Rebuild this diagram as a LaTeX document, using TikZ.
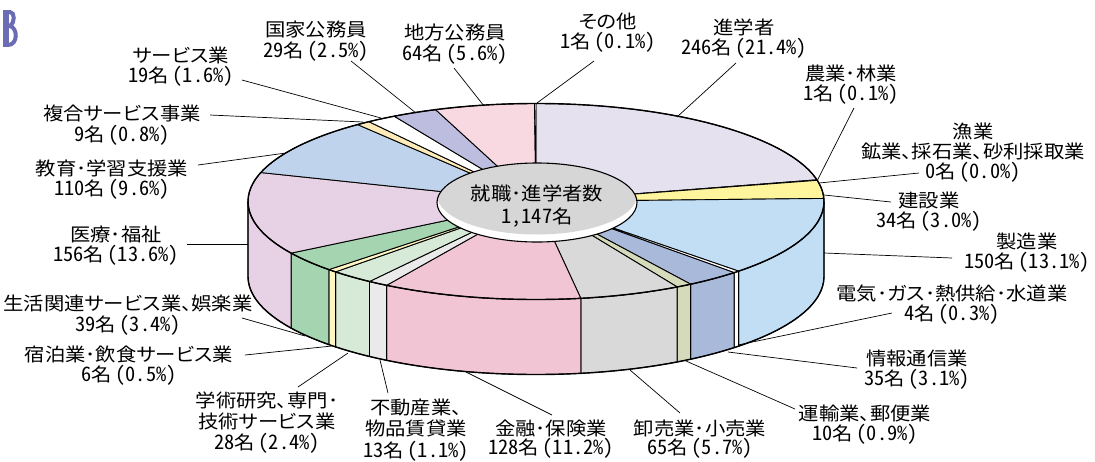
\documentclass[tikz,border=0pt]{standalone}
\usepackage{fontspec}
\setmainfont{Noto Sans CJK JP}[FakeStretch=1.1,RawFeature={+palt}]
\newfontfamily\hwfont{Noto Sans CJK JP}[Scale=1.08,FakeStretch=1.02,RawFeature={+hwid}]
\newcommand\numlab[2]{{\hwfont #1}名\kern0.2em{\hwfont(#2\%)}}
\definecolor{cShingaku}{HTML}{E6E1EE}
\definecolor{cKensetsu}{HTML}{FFF59D}
\definecolor{cSeizo}{HTML}{C1DEF5}
\definecolor{cJoho}{HTML}{A9B9DA}
\definecolor{cUnyu}{HTML}{D5DABB}
\definecolor{cOroshi}{HTML}{D9D9D9}
\definecolor{cKinyu}{HTML}{F2C5D4}
\definecolor{cFudosan}{HTML}{EAEAEA}
\definecolor{cGakujutsu}{HTML}{D7E9D7}
\definecolor{cShukuhaku}{HTML}{FFF6C4}
\definecolor{cSeikatsu}{HTML}{A5D4B0}
\definecolor{cIryo}{HTML}{E7D1E5}
\definecolor{cKyoiku}{HTML}{C0D3EC}
\definecolor{cFukugo}{HTML}{FFEBB8}
\definecolor{cKokka}{HTML}{BDBEDF}
\definecolor{cChiho}{HTML}{F8D9E2}
\definecolor{cLabel}{HTML}{D6D6D6}
\definecolor{cGlyph}{HTML}{6A6CB4}
\begin{document}
\begin{tikzpicture}[x=1pt,y=-1pt,
  slice/.style={draw=black,line width=0.9pt,line join=round},
  outer/.style={draw=black,line width=1.4pt},
  leader/.style={draw=black,line width=0.7pt},
  lbl/.style={anchor=base,inner sep=0pt,font=\fontsize{18.5}{20.5}\selectfont}]
\useasboundingbox[fill=white] (0,0) rectangle (1095,461);
% corner glyph
\fill[cGlyph] (3,10) rectangle (9,47);
\draw[cGlyph,line width=4pt] (8,12) -- (10,12) .. controls (15,12) and (15,23) .. (10,26) .. controls (18,28) and (18,45) .. (8,45);
\coordinate (C) at (536,201.5);
\coordinate (B) at (536,276.5);
% side faces
\foreach \s/\e/\c in {0/45.28/cSeizo,45.28/46.53/white,46.53/57.52/cJoho,57.52/60.65/cUnyu,60.65/81.05/cOroshi,81.05/121.23/cKinyu,121.23/125.31/cFudosan,125.31/134.10/cGakujutsu,134.10/135.98/cShukuhaku,135.98/148.22/cSeikatsu,148.22/180/cIryo}{
  \draw[slice,fill=\c] ([shift={(C)}]\s:288 and 98) arc[start angle=\s,end angle=\e,x radius=288,y radius=98] -- ++(0,75) arc[start angle=\e,end angle=\s,x radius=288,y radius=98] -- cycle;
}
% top faces
\foreach \s/\e/\c in {-90/-12.79/cShingaku,-12.79/-12.48/white,-12.48/-1.80/cKensetsu,-1.80/45.28/cSeizo,45.28/46.53/white,46.53/57.52/cJoho,57.52/60.65/cUnyu,60.65/81.05/cOroshi,81.05/121.23/cKinyu,121.23/125.31/cFudosan,125.31/134.10/cGakujutsu,134.10/135.98/cShukuhaku,135.98/148.22/cSeikatsu,148.22/197.18/cIryo,197.18/231.71/cKyoiku,231.71/234.53/cFukugo,234.53/240.50/white,240.50/249.60/cKokka,249.60/269.69/cChiho,269.69/270/white}{
  \draw[slice,fill=\c] (C) -- ([shift={(C)}]\s:288 and 98) arc[start angle=\s,end angle=\e,x radius=288,y radius=98] -- cycle;
}
% outlines
\draw[outer] (C) ellipse (288 and 98);
\draw[outer] ([shift={(C)}]180:288 and 98) -- ([shift={(B)}]180:288 and 98) arc[start angle=180,end angle=0,x radius=288,y radius=98] -- ([shift={(C)}]0:288 and 98);
% centre label
\begin{scope}
  \clip (537,202.5) ellipse (100 and 39.5);
  \fill[white] (537,202.5) ellipse (100 and 39.5);
  \fill[cLabel] (537,195) ellipse (100 and 39.5);
\end{scope}
\draw[line width=1.1pt] (537,202.5) ellipse (100 and 39.5);
\node[lbl] (tot1) at (537,200) {就職･進学者数};
\node[lbl] (tot2) at (537,223.5) {{\hwfont 1,147}名};
% leader end points
\coordinate (s-sonota) at (537,103);   \coordinate (e-sonota) at (594,61);
\coordinate (s-shin) at (677,117);     \coordinate (e-shin) at (736,63);
\coordinate (s-nogyo) at (817,181);    \coordinate (e-nogyo) at (854,108);
\coordinate (s-gyo) at (819,183);      \coordinate (e-gyo) at (919,173);
\coordinate (s-ken) at (824,195);      \coordinate (e-ken) at (891,202);
\coordinate (s-sei) at (824,253);      \coordinate (e-sei) at (952,258);
\coordinate (s-den) at (738,345);      \coordinate (e-den) at (892,313);
\coordinate (s-joho) at (728,352);     \coordinate (e-joho) at (857,368);
\coordinate (s-unyu) at (686,361);     \coordinate (e-unyu) at (795,409);
\coordinate (s-oro) at (630,370);      \coordinate (e-oro) at (680,413);
\coordinate (s-kin) at (466,372);      \coordinate (e-kin) at (552,415);
\coordinate (s-fudo) at (380,360);     \coordinate (e-fudo) at (388,393);
\coordinate (s-gaku) at (348,353);     \coordinate (e-gaku) at (298,387);
\coordinate (s-shuku) at (332,346);    \coordinate (e-shuku) at (245,355);
\coordinate (s-seikatsu) at (305,336); \coordinate (e-seikatsu) at (242,318);
\coordinate (s-iryo) at (248,244);     \coordinate (e-iryo) at (187,244);
\coordinate (s-kyo) at (286,153);      \coordinate (e-kyo) at (198,165);
\coordinate (s-fuku) at (363,122);     \coordinate (e-fuku) at (210,115);
\coordinate (s-serv) at (381,118);     \coordinate (e-serv) at (242,80);
\coordinate (s-kokka) at (416,113);    \coordinate (e-kokka) at (351,61);
\coordinate (s-chiho) at (484,106);    \coordinate (e-chiho) at (454,68);
\foreach \n in {sonota,shin,nogyo,gyo,ken,sei,den,joho,unyu,oro,kin,fudo,gaku,shuku,seikatsu,iryo,kyo,fuku,serv,kokka,chiho}{
  \draw[leader] (s-\n) -- (e-\n);
}
% labels
\node[lbl] (kokka1) at (316,36.5) {国家公務員};
\node[lbl] (kokka2) at (316,57) {\numlab{29}{2.5}};
\node[lbl] (chiho1) at (455,39.5) {地方公務員};
\node[lbl] (chiho2) at (455,60.5) {\numlab{64}{5.6}};
\node[lbl] (serv1) at (181,62) {サービス業};
\node[lbl] (serv2) at (181,82) {\numlab{19}{1.6}};
\node[lbl] (fuku1) at (122,120.5) {複合サービス事業};
\node[lbl] (fuku2) at (122,141) {\numlab{9}{0.8}};
\node[lbl] (kyo1) at (112,175) {教育･学習支援業};
\node[lbl] (kyo2) at (112,195) {\numlab{110}{9.6}};
\node[lbl] (iryo1) at (116,241) {医療･福祉};
\node[lbl] (iryo2) at (116,261) {\numlab{156}{13.6}};
\node[lbl] (seikatsu1) at (128,310) {生活関連サービス業、娯楽業};
\node[lbl] (seikatsu2) at (128,331) {\numlab{39}{3.4}};
\node[lbl] (shuku1) at (129,361) {宿泊業･飲食サービス業};
\node[lbl] (shuku2) at (129,381) {\numlab{6}{0.5}};
\node[lbl] (gaku1) at (267,407) {学術研究、専門･};
\node[lbl] (gaku2) at (267,428) {技術サービス業};
\node[lbl] (gaku3) at (267,449) {\numlab{28}{2.4}};
\node[lbl] (fudo1) at (416,414) {不動産業、};
\node[lbl] (fudo2) at (416,435) {物品賃貸業};
\node[lbl] (fudo3) at (416,457) {\numlab{13}{1.1}};
\node[lbl] (kin1) at (551,435) {金融･保険業};
\node[lbl] (kin2) at (551,454) {\numlab{128}{11.2}};
\node[lbl] (oro1) at (700,435) {卸売業･小売業};
\node[lbl] (oro2) at (700,454) {\numlab{65}{5.7}};
\node[lbl] (unyu1) at (865,420) {運輸業、郵便業};
\node[lbl] (unyu2) at (865,440) {\numlab{10}{0.9}};
\node[lbl] (joho1) at (917,365) {情報通信業};
\node[lbl] (joho2) at (917,385) {\numlab{35}{3.1}};
\node[lbl] (den1) at (952,300) {電気･ガス･熱供給･水道業};
\node[lbl] (den2) at (952,320) {\numlab{4}{0.3}};
\node[lbl] (sei1) at (1027,248) {製造業};
\node[lbl] (sei2) at (1027,268) {\numlab{150}{13.1}};
\node[lbl] (ken1) at (929,207) {建設業};
\node[lbl] (ken2) at (929,227) {\numlab{34}{3.0}};
\node[lbl] (gyo1) at (973,138) {漁業};
\node[lbl] (gyo2) at (973,158) {鉱業、採石業、砂利採取業};
\node[lbl] (gyo3) at (973,178) {\numlab{0}{0.0}};
\node[lbl] (nogyo1) at (851,80) {農業･林業};
\node[lbl] (nogyo2) at (851,100) {\numlab{1}{0.1}};
\node[lbl] (shin1) at (744,34) {進学者};
\node[lbl] (shin2) at (744,54.5) {\numlab{246}{21.4}};
\node[lbl] (sonota1) at (608,28) {その他};
\node[lbl] (sonota2) at (608,48) {\numlab{1}{0.1}};
\end{tikzpicture}
\end{document}
